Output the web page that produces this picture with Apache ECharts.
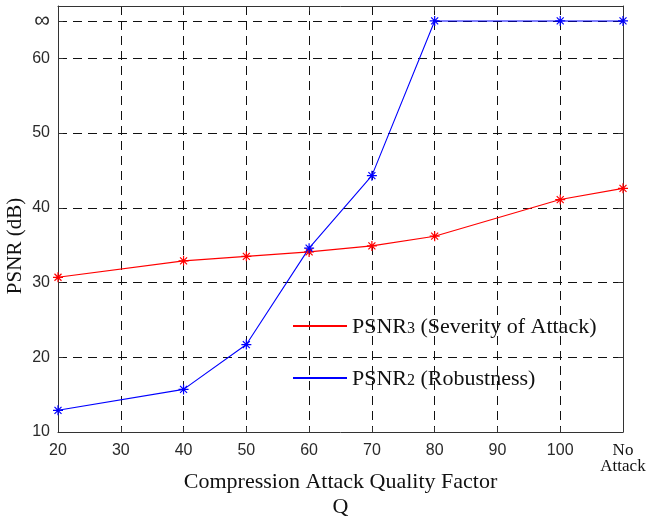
<!DOCTYPE html>
<html>
<head>
<meta charset="utf-8">
<script src="https://cdn.jsdelivr.net/npm/echarts@6/dist/echarts.min.js"></script>
<style>
  html, body { margin: 0; padding: 0; background: #fff; }
  #chart { width: 648px; height: 519px; }
</style>
</head>
<body>
<div id="chart"></div>
<script>
// Quality factors on the x axis (the last one is the unattacked image)
const categories = ['20', '30', '40', '50', '60', '70', '80', '90', '100', 'No Attack'];

// Value used to plot an infinite PSNR (identical images)
const INF_VALUE = 65;

// PSNR3 – severity of the attack (null where no measurement was taken)
const psnr3 = [30.7, null, 32.9, 33.5, 34.1, 34.9, 36.2, null, 41.1, 42.6];
// PSNR2 – robustness of the watermark
const psnr2 = [12.9, null, 15.7, 21.7, 34.6, 44.3, INF_VALUE, null, INF_VALUE, INF_VALUE];

// Y axis ticks; the top one is shown as infinity
const yTicks = [10, 20, 30, 40, 50, 60, INF_VALUE];

const seriesNames = ['PSNR3 (Severity of Attack)', 'PSNR2 (Robustness)'];

const SERIF = '"Liberation Serif", "Times New Roman", serif';
const SANS = '"Liberation Sans", Arial, sans-serif';

// asterisk marker drawn as strokes (+ and x overlaid)
const ASTERISK = 'path://M5 0 L5 10 M0 5 L10 5 M1.5 1.5 L8.5 8.5 M1.5 8.5 L8.5 1.5';

const gridLine = { show: true, lineStyle: { color: '#111', width: 1, type: [9, 6] } };
const axisLine = { show: true, onZero: false, lineStyle: { color: '#333', width: 1 } };

function lineSeries(name, data, color) {
  return {
    name: name,
    type: 'line',
    data: data,
    connectNulls: true,
    symbol: ASTERISK,
    symbolSize: 10,
    showSymbol: true,
    itemStyle: { color: color, borderColor: color, borderWidth: 1.2 },
    lineStyle: { color: color, width: 1.1 },
    emphasis: { disabled: true },
    animation: false,
    z: 5
  };
}

const chart = echarts.init(document.getElementById('chart'), null, { renderer: 'canvas' });
chart.setOption({
  backgroundColor: '#fff',
  animation: false,
  grid: { left: 58, right: 25, top: 6, bottom: 87, containLabel: false, outerBoundsMode: 'none' },
  legend: {
    data: seriesNames,
    orient: 'vertical',
    left: 287,
    top: 311,
    itemWidth: 54,
    itemHeight: 14,
    itemGap: 30,
    itemStyle: { color: 'transparent', borderColor: 'transparent', borderWidth: 0 },
    selectedMode: false,
    formatter: function (name) {
      const m = name.match(/^PSNR(\d)(.*)$/);
      return '{a|PSNR}{b|' + m[1] + '}{a|' + m[2] + '}';
    },
    textStyle: {
      rich: {
        a: { fontFamily: SERIF, fontSize: 22, color: '#111', lineHeight: 24, verticalAlign: 'bottom' },
        b: { fontFamily: SERIF, fontSize: 16, color: '#111', lineHeight: 24, verticalAlign: 'bottom', padding: [0, 0, 1, 0] }
      }
    }
  },
  xAxis: [
    {
      type: 'category',
      data: categories,
      boundaryGap: false,
      position: 'bottom',
      name: 'Compression Attack Quality Factor\nQ',
      nameLocation: 'middle',
      nameGap: 38,
      nameMoveOverlap: false,
      nameTextStyle: { fontFamily: SERIF, fontSize: 22, color: '#111', lineHeight: 25 },
      axisLine: axisLine,
      axisTick: { show: true, inside: true, length: 5, alignWithLabel: true, lineStyle: { color: '#333' } },
      axisLabel: {
        margin: 11,
        interval: 0,
        fontFamily: SANS,
        fontSize: 16,
        color: '#2a2a2a',
        formatter: function (v) {
          if (v === 'No Attack') return '{s|No}\n{s|Attack}';
          return v;
        },
        rich: { s: { fontFamily: SERIF, fontSize: 17, lineHeight: 16, color: '#111' } }
      },
      splitLine: Object.assign({ interval: 0 }, gridLine)
    },
    {
      type: 'category',
      data: categories,
      boundaryGap: false,
      position: 'top',
      axisLine: axisLine,
      axisTick: { show: true, inside: true, length: 5, lineStyle: { color: '#333' } },
      axisLabel: { show: false },
      splitLine: { show: false }
    }
  ],
  yAxis: [
    {
      type: 'value',
      min: 10,
      max: 67,
      position: 'left',
      axisLine: axisLine,
      axisTick: { show: true, inside: true, length: 5, customValues: yTicks, lineStyle: { color: '#333' } },
      axisLabel: {
        margin: 8,
        customValues: yTicks,
        fontFamily: SANS,
        fontSize: 16,
        color: '#2a2a2a',
        formatter: function (v) { return v === INF_VALUE ? '{inf|∞}' : String(v); },
        rich: { inf: { fontFamily: SANS, fontSize: 22, color: '#2a2a2a' } }
      },
      splitLine: gridLine
    },
    {
      type: 'value',
      min: 10,
      max: 67,
      position: 'right',
      axisLine: axisLine,
      axisTick: { show: true, inside: true, length: 5, customValues: yTicks, lineStyle: { color: '#333' } },
      axisLabel: { show: false },
      splitLine: { show: false }
    }
  ],
  graphic: [
    {
      type: 'text',
      x: 15,
      y: 246,
      rotation: Math.PI / 2,
      style: {
        text: 'PSNR (dB)',
        fontFamily: SERIF,
        fontSize: 21,
        fill: '#111',
        align: 'center',
        verticalAlign: 'middle'
      }
    }
  ],
  series: [
    lineSeries(seriesNames[0], psnr3, '#ff0000'),
    lineSeries(seriesNames[1], psnr2, '#0000ff')
  ]
});
</script>
</body>
</html>
